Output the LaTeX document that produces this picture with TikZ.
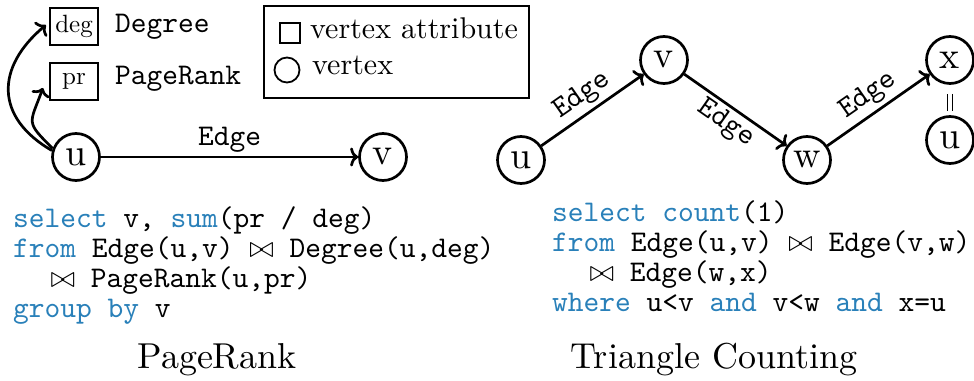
\RequirePackage{fix-cm}
\documentclass[tikz,border=0pt]{standalone}
\usepackage{fontspec}
\setmainfont{lmroman10-regular}[Extension=.otf]
\setmonofont{lmmono10-regular}[Extension=.otf]
\usetikzlibrary{arrows.meta,calc}

\definecolor{kwblue}{HTML}{2980B9}
\newcommand\kw[1]{\textcolor{kwblue}{#1}}
\newcommand\jn{$\bowtie$}

\tikzset{
  vtx/.style={circle,draw,line width=2.7pt,minimum size=47pt,inner sep=0pt,
    font=\fontsize{38}{38}\selectfont},
  attr/.style={rectangle,draw,line width=2.2pt,minimum width=48pt,minimum height=37pt,
    inner sep=0pt,font=\fontsize{25}{25}\selectfont},
  tt/.style={font=\fontsize{30}{30}\ttfamily},
  codeline/.style={tt,anchor=base west,inner sep=0pt},
  legtext/.style={anchor=base west,inner sep=0pt,font=\fontsize{30}{30}\selectfont},
  arr/.style={line width=2.7pt,-{To[length=8pt,width=19pt]}},
  caption/.style={anchor=base,inner sep=0pt,font=\fontsize{36}{36}\selectfont},
}

\begin{document}
\begin{tikzpicture}[x=1pt,y=1pt]
\useasboundingbox (0,0) rectangle (974,380);

% ---- PageRank graph ----
\node[vtx] (pu) at (76,223) {u};
\node[vtx] (pv) at (383,223) {v};
\node[attr] (deg) at (74,353.5) {deg};
\node[attr] (pr) at (74,298.5) {pr};
\node[tt,anchor=base west,inner sep=0pt] (degname) at (115,347) {Degree};
\node[tt,anchor=base west,inner sep=0pt] (prname) at (115,295) {PageRank};

\draw[arr] (pu) -- node[tt,above] {Edge} (pv);
\draw[arr] (pu.165) to[out=150,in=220,out distance=66pt,in distance=66pt]
  ([xshift=-3pt,yshift=1.5pt]deg.west);
\draw[arr] (pu.160) to[out=135,in=250,out distance=39pt,in distance=39pt]
  ([xshift=-6pt,yshift=-6.5pt]pr.west);

% ---- legend ----
\node[draw,line width=2pt,minimum width=265pt,minimum height=92pt,inner sep=0pt]
  (legend) at (396.5,328) {};
\node[draw,line width=1.8pt,minimum size=20pt,inner sep=0pt] (legsq) at (290,347) {};
\node[legtext] (legsqtxt) at (310,341) {vertex attribute};
\node[draw,circle,line width=1.8pt,minimum size=25pt,inner sep=0pt] (legci) at (287,310) {};
\node[legtext] (legcitxt) at (312,305) {vertex};

% ---- Triangle counting graph ----
\node[vtx] (tu) at (521,220) {u};
\node[vtx] (tv) at (664,320) {v};
\node[vtx] (tw) at (807,220) {w};
\node[vtx] (tx) at (950,320) {x};
\node[vtx] (tu2) at (950,240) {u};

\draw[arr] (tu) -- node[tt,above,sloped] {Edge} (tv);
\draw[arr] (tv) -- node[tt,below,sloped] {Edge} (tw);
\draw[arr] (tw) -- node[tt,above,sloped] {Edge} (tx);
\draw[line width=1.4pt,double distance=3.6pt,shorten <=9pt,shorten >=4pt] (tx) -- (tu2);

% ---- queries ----
\node[codeline] (p1) at (13,152) {\kw{select} v, \kw{sum}(pr / deg)};
\node[codeline] (p2) at (13,122) {\kw{from} Edge(u,v) \jn{} Degree(u,deg)};
\node[codeline] (p3) at (13,92)  {\hspace*{1.25em}\jn{} PageRank(u,pr)};
\node[codeline] (p4) at (13,62)  {\kw{group} \kw{by} v};

\node[codeline] (t1) at (552,158) {\kw{select} \kw{count}(1)};
\node[codeline] (t2) at (552,128) {\kw{from} Edge(u,v) \jn{} Edge(v,w)};
\node[codeline] (t3) at (552,98)  {\hspace*{1.25em}\jn{} Edge(w,x)};
\node[codeline] (t4) at (552,68)  {\kw{where} u<v \kw{and} v<w \kw{and} x=u};

% ---- captions ----
\node[caption] (cap1) at (217,12) {PageRank};
\node[caption] (cap2) at (714,12) {Triangle Counting};
\end{tikzpicture}
\end{document}
